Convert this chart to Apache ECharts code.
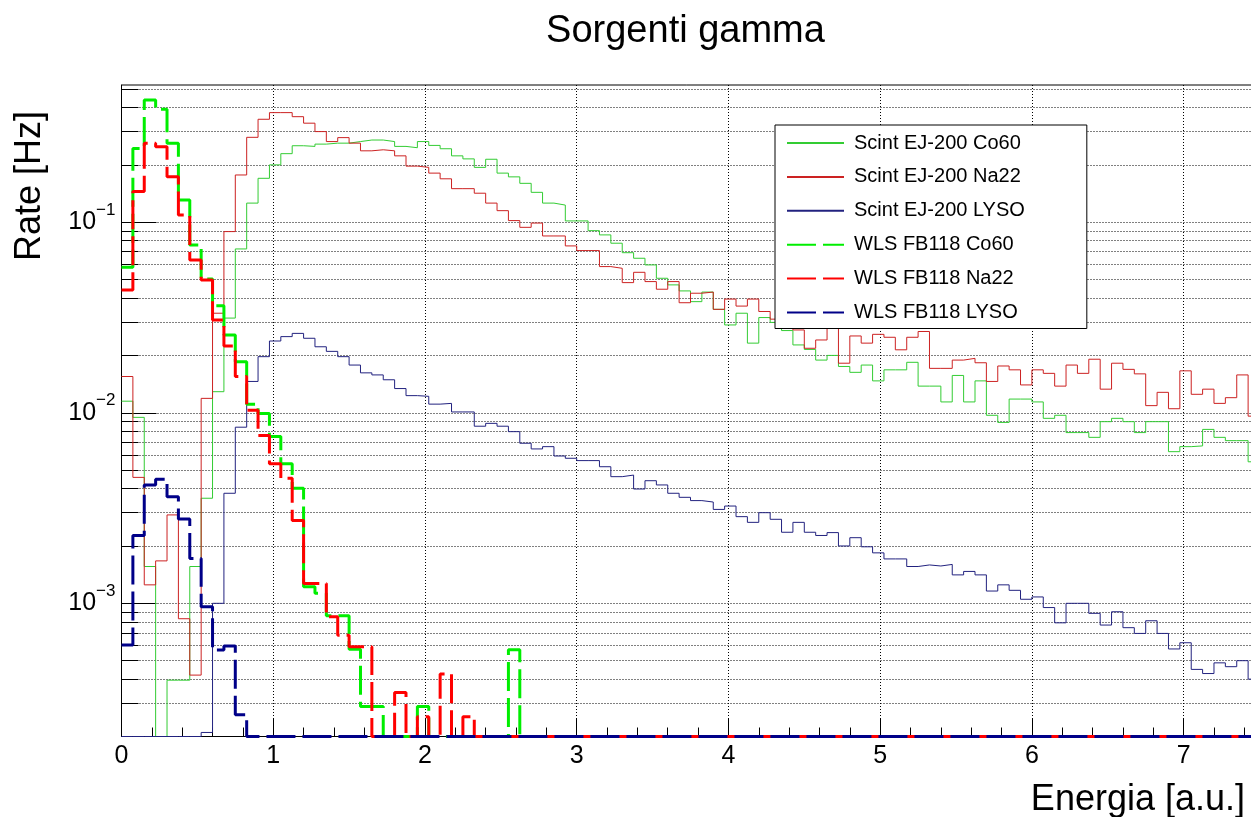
<!DOCTYPE html>
<html><head><meta charset="utf-8">
<script src="https://cdn.jsdelivr.net/npm/echarts@6/dist/echarts.min.js"></script>
<style>html,body{margin:0;padding:0;background:#fff}#c{width:1251px;height:817px}</style>
</head><body><div id="c"></div>
<script>
// ---- binning / axes ----
const BIN_WIDTH = 0.075;
const N_BINS = 100;
const X_MAX = 7.5;
const Y_MIN = 2e-4;
const Y_MAX = 0.525;
const X_MAJOR_TICKS = [0, 1, 2, 3, 4, 5, 6, 7];
const Y_MAJOR_TICKS = [1e-3, 1e-2, 1e-1];
const Y_MINOR_TICKS = [3e-4, 4e-4, 5e-4, 6e-4, 7e-4, 8e-4, 9e-4,
  2e-3, 3e-3, 4e-3, 5e-3, 6e-3, 7e-3, 8e-3, 9e-3,
  2e-2, 3e-2, 4e-2, 5e-2, 6e-2, 7e-2, 8e-2, 9e-2,
  2e-1, 3e-1, 4e-1, 5e-1];
const SERIES_NAMES = ['Scint EJ-200 Co60', 'Scint EJ-200 Na22', 'Scint EJ-200 LYSO',
  'WLS FB118 Co60', 'WLS FB118 Na22', 'WLS FB118 LYSO'];

// ---- bin contents (Rate [Hz]) ----
const scintCo60 = [
  0.0115, 0.00946, 0.00156, 0, 0.000395, 0.000395, 0.00156, 0.00356, 0.0129, 0.0314,
  0.0724, 0.126, 0.170, 0.200, 0.229, 0.252, 0.250, 0.257, 0.260, 0.260,
  0.265, 0.270, 0.270, 0.265, 0.250, 0.246, 0.265, 0.253, 0.243, 0.223,
  0.215, 0.194, 0.214, 0.181, 0.173, 0.160, 0.1435, 0.126, 0.123, 0.1016,
  0.1016, 0.0903, 0.0858, 0.0776, 0.0692, 0.0647, 0.0597, 0.0508, 0.0469, 0.0436,
  0.0383, 0.043, 0.0349, 0.0289, 0.0333, 0.0232, 0.0316, 0.0298, 0.027, 0.0227,
  0.0215, 0.0189, 0.020, 0.0175, 0.0163, 0.0178, 0.0147, 0.0168, 0.0168, 0.0184,
  0.0138, 0.0138, 0.0114, 0.0157, 0.0114, 0.0147, 0.0097, 0.0089, 0.0118, 0.0118,
  0.0114, 0.00935, 0.0097, 0.00787, 0.00787, 0.00743, 0.00898, 0.00935, 0.00898, 0.00787,
  0.00898, 0.00898, 0.00625, 0.00664, 0.0067, 0.00818, 0.00743, 0.00714, 0.00714, 0.00553
];
const scintNa22 = [
  0.0155, 0.00458, 0.00125, 0.00167, 0.00291, 0.00083, 0.00042, 0.0119, 0.0333, 0.0893,
  0.177, 0.279, 0.347, 0.376, 0.376, 0.358, 0.331, 0.299, 0.265, 0.278,
  0.260, 0.237, 0.240, 0.237, 0.223, 0.197, 0.194, 0.181, 0.169, 0.150,
  0.150, 0.142, 0.126, 0.115, 0.102, 0.094, 0.099, 0.0847, 0.0847, 0.0751,
  0.071, 0.071, 0.0585, 0.0573, 0.0482, 0.0546, 0.0488, 0.0445, 0.0488, 0.0378,
  0.0424, 0.043, 0.0349, 0.0395, 0.0363, 0.0395, 0.034, 0.031, 0.0304, 0.0272,
  0.0218, 0.0241, 0.0285, 0.0182, 0.0253, 0.0232, 0.0258, 0.0249, 0.0214, 0.0249,
  0.0267, 0.0171, 0.0171, 0.0189, 0.0193, 0.0183, 0.0146, 0.0176, 0.0168, 0.014,
  0.0168, 0.0161, 0.0138, 0.0178, 0.0161, 0.0191, 0.0133, 0.0182, 0.0169, 0.016,
  0.0109, 0.0128, 0.0105, 0.0166, 0.0125, 0.0133, 0.0112, 0.012, 0.0158, 0.0096
];
const scintLYSO = [
  0, 0, 0, 0, 0, 0, 0, 0.00021, 0.001, 0.00378,
  0.0084, 0.0146, 0.0197, 0.0238, 0.0251, 0.0261, 0.0246, 0.0222, 0.021, 0.0197,
  0.0178, 0.0162, 0.0158, 0.0149, 0.0134, 0.0123, 0.0122, 0.0111, 0.0112, 0.0101,
  0.0101, 0.0085, 0.0088, 0.0085, 0.00796, 0.00692, 0.00646, 0.00664, 0.00593, 0.00577,
  0.00561, 0.00561, 0.00521, 0.00462, 0.00471, 0.00398, 0.0044, 0.00418, 0.00378, 0.0036,
  0.00346, 0.0034, 0.00311, 0.00324, 0.00285, 0.00266, 0.00299, 0.00276, 0.00236, 0.00266,
  0.00236, 0.00227, 0.00235, 0.002, 0.00221, 0.00198, 0.00184, 0.00171, 0.00171, 0.00156,
  0.00159, 0.00157, 0.0016, 0.00141, 0.00147, 0.00141, 0.00116, 0.00125, 0.00117, 0.00105,
  0.00108, 0.00095, 0.00079, 0.001, 0.001, 0.000886, 0.000769, 0.000903, 0.000745, 0.000695,
  0.00081, 0.000695, 0.000576, 0.000621, 0.00045, 0.000428, 0.000487, 0.000465, 0.0005, 0.0004
];
const wlsCo60 = [
  0.058, 0.244, 0.438, 0.392, 0.26, 0.131, 0.076, 0.0504, 0.0364, 0.0256,
  0.0185, 0.0111, 0.0099, 0.0075, 0.0054, 0.00402, 0.00122, 0.00113, 0.00086, 0.00086,
  0.000574, 0.000287, 0.000287, 0, 0, 0, 0.000287, 0, 0, 0,
  0, 0, 0, 0, 0.00057, 0, 0, 0, 0, 0,
  0, 0, 0, 0, 0, 0, 0, 0, 0, 0,
  0, 0, 0, 0, 0, 0, 0, 0, 0, 0,
  0, 0, 0, 0, 0, 0, 0, 0, 0, 0,
  0, 0, 0, 0, 0, 0, 0, 0, 0, 0,
  0, 0, 0, 0, 0, 0, 0, 0, 0, 0,
  0, 0, 0, 0, 0, 0, 0, 0, 0, 0
];
const wlsNa22 = [
  0.0441, 0.145, 0.26, 0.249, 0.173, 0.109, 0.0634, 0.0497, 0.0307, 0.0224,
  0.0155, 0.0103, 0.0076, 0.0054, 0.00453, 0.00272, 0.00127, 0.00127, 0.00085, 0.00068,
  0.000591, 0.000591, 0, 0, 0.00034, 0, 0.000254, 0, 0.000425, 0,
  0.000254, 0, 0, 0, 0, 0, 0, 0, 0, 0,
  0, 0, 0, 0, 0, 0, 0, 0, 0, 0,
  0, 0, 0, 0, 0, 0, 0, 0, 0, 0,
  0, 0, 0, 0, 0, 0, 0, 0, 0, 0,
  0, 0, 0, 0, 0, 0, 0, 0, 0, 0,
  0, 0, 0, 0, 0, 0, 0, 0, 0, 0,
  0, 0, 0, 0, 0, 0, 0, 0, 0, 0
];
const wlsLYSO = [
  0.000604, 0.00227, 0.00418, 0.00448, 0.00363, 0.00277, 0.00172, 0.00096, 0.000569, 0.000597,
  0.00026, 0, 0, 0, 0, 0, 0, 0, 0, 0,
  0, 0, 0, 0, 0, 0, 0, 0, 0, 0,
  0, 0, 0, 0, 0, 0, 0, 0, 0, 0,
  0, 0, 0, 0, 0, 0, 0, 0, 0, 0,
  0, 0, 0, 0, 0, 0, 0, 0, 0, 0,
  0, 0, 0, 0, 0, 0, 0, 0, 0, 0,
  0, 0, 0, 0, 0, 0, 0, 0, 0, 0,
  0, 0, 0, 0, 0, 0, 0, 0, 0, 0,
  0, 0, 0, 0, 0, 0, 0, 0, 0, 0
];

// ---- build ----
const FONT = '"Liberation Sans", Arial, Helvetica, sans-serif';
const X_MINOR_TICKS = [];
for (let k = 1; k < 38; k++) { if (k % 5 !== 0) X_MINOR_TICKS.push(Math.round(k * 2) / 10); }

function histData(vals) {
  const pts = vals.map((v, i) => [i * BIN_WIDTH, v > 0 ? v : Y_MIN]);
  pts.push([N_BINS * BIN_WIDTH, pts[pts.length - 1][1]]);
  return pts;
}
const DASH = [29, 7];
const STYLES = [
  { color: '#33cc33', width: 1, type: 'solid' },
  { color: '#cc2222', width: 1, type: 'solid' },
  { color: '#22227f', width: 1, type: 'solid' },
  { color: '#00ee00', width: 3, type: DASH },
  { color: '#ff0000', width: 3, type: DASH },
  { color: '#000088', width: 3, type: DASH }
];
const VALUES = [scintCo60, scintNa22, scintLYSO, wlsCo60, wlsNa22, wlsLYSO];

const series = VALUES.map((vals, k) => ({
  name: SERIES_NAMES[k], type: 'line', step: 'end', data: histData(vals),
  symbol: 'none', showSymbol: false, clip: true, z: 2 + k * 0.01,
  xAxisIndex: 0, yAxisIndex: 0,
  lineStyle: { color: STYLES[k].color, width: STYLES[k].width, type: STYLES[k].type },
  itemStyle: { color: STYLES[k].color },
  emphasis: { disabled: true }, silent: true
}));

const DOTTED = { type: [1, 2], color: '#000', width: 1 };
const chart = echarts.init(document.getElementById('c'), null, { renderer: 'canvas' });
chart.setOption({
  animation: false,
  backgroundColor: '#fff',
  grid: { left: 121.5, top: 85, width: 1138, height: 651.5, show: true, borderColor: '#000', borderWidth: 1,
    backgroundColor: 'transparent', containLabel: false, outerBoundsMode: 'none' },
  xAxis: [
    { type: 'value', min: 0, max: X_MAX, position: 'bottom',
      axisLine: { show: true, onZero: false, lineStyle: { color: '#000', width: 1 } },
      axisTick: { show: true, inside: true, length: 9, customValues: X_MINOR_TICKS, lineStyle: { color: '#000' } },
      axisLabel: { show: false }, splitLine: { show: false } },
    { type: 'value', min: 0, max: X_MAX, position: 'bottom',
      axisLine: { show: false, onZero: false },
      axisTick: { show: true, inside: true, length: 18, customValues: X_MAJOR_TICKS, lineStyle: { color: '#000' } },
      axisLabel: { show: true, customValues: X_MAJOR_TICKS, margin: 7, fontSize: 25, fontFamily: FONT, color: '#000',
        formatter: v => String(v) },
      splitLine: { show: true, lineStyle: DOTTED } }
  ],
  yAxis: [
    { type: 'log', logBase: 10, min: Y_MIN, max: Y_MAX, position: 'left',
      axisLine: { show: true, onZero: false, lineStyle: { color: '#000', width: 1 } },
      axisTick: { show: true, inside: true, length: 17, customValues: Y_MINOR_TICKS.concat(Y_MAJOR_TICKS), lineStyle: { color: '#000' } },
      axisLabel: { show: false },
      splitLine: { show: true, lineStyle: DOTTED } },
    { type: 'log', logBase: 10, min: Y_MIN, max: Y_MAX, position: 'left',
      axisLine: { show: false, onZero: false },
      axisTick: { show: true, inside: true, length: 35, customValues: Y_MAJOR_TICKS, lineStyle: { color: '#000' } },
      axisLabel: { show: true, customValues: Y_MAJOR_TICKS, margin: 6,
        formatter: v => '{b|10}{s|\u2212' + Math.round(-Math.log10(v)) + '}',
        rich: {
          b: { fontSize: 25, fontFamily: FONT, color: '#000', padding: [8, 0, 8, 0] },
          s: { fontSize: 17, fontFamily: FONT, color: '#000', verticalAlign: 'top' }
        } },
      splitLine: { show: false } }
  ],
  legend: {
    orient: 'vertical', left: 775, top: 125, padding: [8, 62, 6, 11], itemGap: 13.9,
    itemWidth: 57, itemHeight: 20, backgroundColor: '#fff', borderColor: '#000', borderWidth: 1, borderRadius: 0,
    itemStyle: { color: 'rgba(0,0,0,0)', borderColor: 'rgba(0,0,0,0)', borderWidth: 0 },
    textStyle: { fontSize: 20, fontFamily: FONT, color: '#000', padding: [0, 0, 0, 5] },
    selectedMode: false, data: SERIES_NAMES, z: 10
  },
  graphic: [
    { type: 'text', x: 685.5, y: 32, silent: true,
      style: { text: 'Sorgenti gamma', fontSize: 38, fontFamily: FONT, fill: '#000', align: 'center', verticalAlign: 'middle' } },
    { type: 'text', x: 30, y: 186, rotation: Math.PI / 2, silent: true,
      style: { text: 'Rate [Hz]', fontSize: 36, fontFamily: FONT, fill: '#000', align: 'center', verticalAlign: 'middle' } },
    { type: 'text', x: 1245, y: 800, silent: true,
      style: { text: 'Energia [a.u.]', fontSize: 36, fontFamily: FONT, fill: '#000', align: 'right', verticalAlign: 'middle' } }
  ],
  series: series
});
</script></body></html>
